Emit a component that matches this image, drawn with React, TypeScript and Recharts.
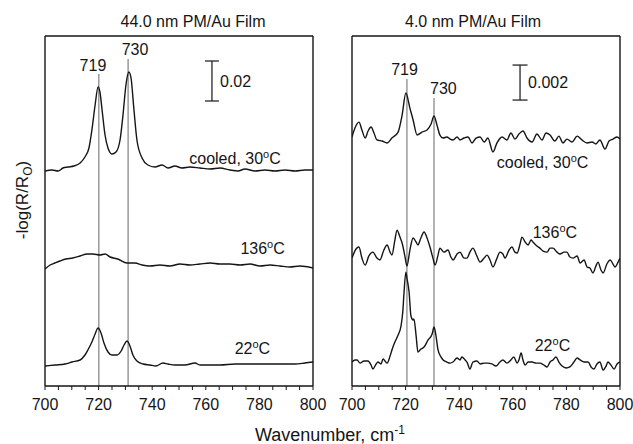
import React from 'react';
import { LineChart, Line, XAxis, YAxis, ReferenceLine, ReferenceDot } from 'recharts';

// ---------- data: [wavenumber (cm-1), -log(R/Ro) incl. stacking offset] ----------
const thickCooled: [number, number][] = [
  [700.0, 0.1075], [702.6, 0.108], [704.9, 0.1075], [706.7, 0.109], [708.6, 0.1095], [710.8, 0.110],
  [713.1, 0.1115], [714.9, 0.1145], [716.4, 0.119], [717.5, 0.128], [718.7, 0.1405], [719.8, 0.1495],
  [720.5, 0.147], [721.3, 0.138], [722.4, 0.1255], [723.5, 0.119], [725.0, 0.116], [726.5, 0.117],
  [728.0, 0.123], [729.1, 0.1355], [730.2, 0.1505], [731.3, 0.157], [732.1, 0.154], [733.2, 0.138],
  [734.3, 0.123], [736.2, 0.114], [738.4, 0.1105], [741.0, 0.1095], [743.7, 0.1105], [745.9, 0.109],
  [748.5, 0.110], [751.1, 0.109], [754.1, 0.1095], [757.8, 0.109], [761.6, 0.1085], [765.3, 0.109],
  [769.0, 0.108], [772.0, 0.1075], [774.6, 0.1085], [778.4, 0.1075], [782.1, 0.108], [785.8, 0.1075],
  [789.6, 0.108], [793.3, 0.1075], [797.0, 0.108], [800.0, 0.108],
];
const thickHot: [number, number][] = [
  [700.0, 0.0585], [701.9, 0.0605], [703.7, 0.0615], [705.6, 0.0625], [707.8, 0.0635], [710.4, 0.064],
  [713.1, 0.065], [715.7, 0.066], [717.9, 0.066], [720.5, 0.0655], [722.4, 0.066], [724.3, 0.0645],
  [727.2, 0.0635], [730.6, 0.0615], [733.6, 0.0615], [736.2, 0.0605], [739.2, 0.060], [742.9, 0.0605],
  [746.6, 0.060], [750.4, 0.061], [754.1, 0.0605], [757.8, 0.061], [761.6, 0.0615], [765.3, 0.061],
  [769.0, 0.061], [772.8, 0.0605], [776.5, 0.061], [780.2, 0.060], [784.0, 0.0605], [787.7, 0.060],
  [791.4, 0.0595], [795.1, 0.060], [800.0, 0.059],
];
const thickRoom: [number, number][] = [
  [700.0, 0.010], [703.7, 0.0105], [707.5, 0.011], [710.1, 0.012], [713.1, 0.013], [714.9, 0.0155],
  [716.0, 0.018], [717.5, 0.022], [718.7, 0.026], [719.8, 0.029], [720.9, 0.0265], [722.0, 0.0215],
  [723.5, 0.017], [725.0, 0.0155], [726.9, 0.0155], [728.4, 0.0175], [729.5, 0.0205], [730.6, 0.0225],
  [731.7, 0.020], [732.8, 0.0155], [734.3, 0.0125], [736.6, 0.011], [739.2, 0.0105], [741.4, 0.010],
  [744.0, 0.0115], [745.9, 0.011], [748.5, 0.0105], [752.2, 0.0105], [756.0, 0.0115], [757.8, 0.0105],
  [761.6, 0.0105], [765.3, 0.0105], [770.9, 0.011], [776.5, 0.011], [782.1, 0.011], [787.7, 0.011],
  [793.3, 0.011], [797.0, 0.0115], [800.0, 0.012],
];

const thinCooled: [number, number][] = [
  [700.0, 0.01423], [701.1, 0.01474], [702.6, 0.01508], [703.7, 0.01463], [704.9, 0.01417], [706.0, 0.01457],
  [707.1, 0.01480], [708.2, 0.01446], [709.3, 0.01406], [711.2, 0.01400], [713.1, 0.01389], [714.9, 0.01417],
  [717.2, 0.01451], [718.7, 0.01548], [720.1, 0.01674], [721.6, 0.01588], [722.8, 0.01520], [724.3, 0.01434],
  [726.1, 0.01451], [728.0, 0.01463], [729.5, 0.01497], [730.6, 0.01543], [731.7, 0.01491], [732.8, 0.01434],
  [734.0, 0.01417], [735.4, 0.01423], [736.6, 0.01411], [737.7, 0.01406], [739.2, 0.01423], [740.3, 0.01406],
  [741.8, 0.01417], [743.3, 0.01423], [744.8, 0.01389], [746.3, 0.01417], [747.8, 0.01423], [749.3, 0.01394],
  [750.7, 0.01417], [752.6, 0.01337], [754.1, 0.01389], [756.0, 0.01423], [757.8, 0.01406], [759.3, 0.01446],
  [760.8, 0.01411], [762.3, 0.01440], [763.8, 0.01457], [765.3, 0.01417], [767.2, 0.01394], [769.0, 0.01440],
  [770.9, 0.01406], [772.4, 0.01446], [773.9, 0.01434], [775.7, 0.01400], [777.2, 0.01428], [778.7, 0.01389],
  [780.2, 0.01411], [782.1, 0.01394], [784.0, 0.01428], [785.8, 0.01406], [787.7, 0.01389], [789.6, 0.01394],
  [791.0, 0.01383], [792.5, 0.01406], [794.4, 0.01354], [795.9, 0.01400], [797.4, 0.01411], [798.9, 0.01423],
  [800.0, 0.01411],
];
const thinHot: [number, number][] = [
  [700.0, 0.00731], [701.5, 0.00783], [702.6, 0.00794], [703.7, 0.00731], [704.9, 0.00691], [706.3, 0.00743],
  [707.8, 0.00765], [709.3, 0.00731], [710.4, 0.00720], [711.9, 0.00777], [713.1, 0.00806], [714.2, 0.00765],
  [714.9, 0.00748], [716.0, 0.00834], [716.8, 0.00891], [717.9, 0.00851], [718.7, 0.00817], [719.8, 0.00737],
  [720.5, 0.00685], [721.6, 0.00777], [722.8, 0.00846], [723.9, 0.00823], [724.6, 0.00806], [725.7, 0.00846],
  [726.9, 0.00880], [728.0, 0.00846], [729.1, 0.00794], [730.2, 0.00731], [731.0, 0.00691], [732.1, 0.00748],
  [732.8, 0.00788], [734.3, 0.00765], [735.8, 0.00777], [736.9, 0.00737], [737.7, 0.00720], [739.2, 0.00754],
  [740.3, 0.00765], [741.8, 0.00731], [742.9, 0.00731], [744.0, 0.00765], [745.1, 0.00788], [746.6, 0.00743],
  [747.8, 0.00708], [749.3, 0.00731], [750.4, 0.00748], [751.5, 0.00720], [752.6, 0.00680], [754.1, 0.00731],
  [755.2, 0.00765], [756.3, 0.00754], [757.1, 0.00731], [758.6, 0.00777], [759.7, 0.00794], [760.8, 0.00765],
  [761.6, 0.00760], [762.7, 0.00811], [763.4, 0.00851], [764.6, 0.00823], [765.7, 0.00806], [766.8, 0.00834],
  [767.5, 0.00823], [769.0, 0.00800], [770.1, 0.00788], [771.3, 0.00771], [772.8, 0.00765], [773.9, 0.00788],
  [775.0, 0.00788], [776.5, 0.00765], [777.6, 0.00754], [779.1, 0.00765], [780.2, 0.00765], [781.3, 0.00737],
  [782.5, 0.00731], [784.0, 0.00743], [785.1, 0.00703], [786.6, 0.00720], [787.7, 0.00680], [788.8, 0.00674],
  [789.9, 0.00646], [791.0, 0.00685], [791.8, 0.00708], [792.9, 0.00663], [793.7, 0.00646], [795.1, 0.00697],
  [796.3, 0.00720], [797.4, 0.00697], [798.1, 0.00680], [799.3, 0.00708], [800.0, 0.00731],
];
const thinRoom: [number, number][] = [
  [700.0, 0.00137], [701.1, 0.00149], [701.9, 0.00149], [703.0, 0.00131], [704.5, 0.00143], [706.0, 0.00143],
  [707.1, 0.00120], [707.8, 0.00097], [709.0, 0.00126], [709.7, 0.00137], [710.8, 0.00126], [711.6, 0.00154],
  [712.3, 0.00143], [713.1, 0.00131], [714.2, 0.00171], [714.9, 0.00206], [716.0, 0.00251], [717.2, 0.00291],
  [718.3, 0.00343], [719.0, 0.00434], [719.4, 0.00531], [720.1, 0.00651], [720.5, 0.00617], [721.3, 0.00537],
  [722.0, 0.00400], [722.8, 0.00377], [723.1, 0.00383], [723.9, 0.00291], [724.6, 0.00194], [725.7, 0.00211],
  [726.9, 0.00223], [728.4, 0.00263], [729.9, 0.00297], [730.6, 0.00337], [731.3, 0.00291], [732.1, 0.00206],
  [733.2, 0.00166], [734.0, 0.00149], [735.4, 0.00137], [736.6, 0.00131], [737.7, 0.00137], [739.2, 0.00160],
  [740.3, 0.00149], [741.0, 0.00166], [742.2, 0.00149], [742.9, 0.00137], [744.0, 0.00097], [745.1, 0.00137],
  [746.6, 0.00143], [747.8, 0.00126], [749.3, 0.00131], [750.7, 0.00131], [752.2, 0.00126], [753.7, 0.00114],
  [755.2, 0.00137], [756.3, 0.00149], [757.8, 0.00131], [759.3, 0.00149], [760.4, 0.00166], [761.6, 0.00131],
  [762.3, 0.00149], [763.1, 0.00189], [763.8, 0.00149], [764.6, 0.00120], [765.7, 0.00137], [767.2, 0.00137],
  [768.7, 0.00131], [770.1, 0.00131], [771.6, 0.00120], [772.8, 0.00109], [773.9, 0.00137], [775.0, 0.00149],
  [776.1, 0.00166], [777.2, 0.00137], [778.4, 0.00114], [779.9, 0.00103], [781.3, 0.00109], [782.8, 0.00137],
  [784.0, 0.00160], [785.1, 0.00149], [786.6, 0.00137], [788.1, 0.00137], [789.2, 0.00109], [790.3, 0.00097],
  [791.4, 0.00126], [792.5, 0.00137], [793.7, 0.00091], [794.8, 0.00114], [795.5, 0.00137], [796.6, 0.00120],
  [797.8, 0.00097], [798.9, 0.00126], [800.0, 0.00137],
];

const xTicks = [700, 705, 710, 715, 720, 725, 730, 735, 740, 745, 750, 755, 760, 765, 770, 775, 780, 785, 790, 795, 800];
const xMajor = [700, 720, 740, 760, 780, 800];
const peakLabels = ['719', '730'];
const panelTitles = ['44.0 nm PM/Au Film', '4.0 nm PM/Au Film'];

const FONT = '"Liberation Sans", Arial, Helvetica, sans-serif';
const INK = '#151515';

const toRows = (pts: [number, number][]) => pts.map(([x, y]) => ({ x, y }));

function Tick(props: any) {
  const { x, y, payload } = props;
  if (!xMajor.includes(payload.value)) return null;
  return (
    <text x={x} y={y + 18} textAnchor="middle" fontSize={16} fontFamily={FONT} fill={INK}>
      {payload.value}
    </text>
  );
}

function Anno(props: any) {
  const { viewBox, text, sup, after, anchor } = props;
  const x = viewBox.x + (viewBox.width || 0) / 2;
  const y = viewBox.y + (viewBox.height || 0) / 2;
  return (
    <text x={x} y={y} dy="0.36em" textAnchor={anchor || 'middle'} fontSize={16} fontFamily={FONT} fill={INK}>
      {text}
      {sup ? <tspan dy={-6} fontSize={11}>{sup}</tspan> : null}
      {after ? <tspan dy={sup ? 6 : 0}>{after}</tspan> : null}
    </text>
  );
}

type PanelProps = {
  marginLeft: number;
  marginRight: number;
  yMax: number;
  traces: [number, number][][];
  peaks: { x: number; top: number; lx: number; ly: number }[];
  bar: { x: number; y0: number; y1: number; cap: number; label: string; lx: number };
  notes: { x: number; y: number; text: string; sup?: string; after?: string }[];
};

function Panel(p: PanelProps) {
  const capL = p.bar.x - p.bar.cap;
  const capR = p.bar.x + p.bar.cap;
  return (
    <div style={{ position: 'absolute', left: 0, top: 0 }}>
      <LineChart width={633} height={444} margin={{ top: 36, left: p.marginLeft, right: p.marginRight, bottom: 28 }}>
        <XAxis
          dataKey="x"
          type="number"
          domain={[700, 800]}
          ticks={xTicks}
          interval={0}
          allowDataOverflow
          tickSize={4}
          tickMargin={2}
          height={30}
          stroke={INK}
          tickLine={{ stroke: INK, strokeWidth: 1 }}
          axisLine={{ stroke: INK, strokeWidth: 1.4 }}
          tick={<Tick />}
        />
        <YAxis type="number" domain={[0, p.yMax]} hide allowDataOverflow />
        <ReferenceLine x={700} stroke={INK} strokeWidth={1.4} />
        <ReferenceLine x={800} stroke={INK} strokeWidth={1.4} />
        <ReferenceLine y={p.yMax} stroke={INK} strokeWidth={1.4} />
        {p.peaks.map((pk, i) => (
          <ReferenceLine
            key={'pl' + i}
            segment={[{ x: pk.x, y: pk.top }, { x: pk.x, y: 0 }]}
            stroke="#666"
            strokeWidth={1}
          />
        ))}
        {p.peaks.map((pk, i) => (
          <ReferenceDot
            key={'pd' + i}
            x={pk.lx}
            y={pk.ly}
            r={0}
            fill="none"
            stroke="none"
            label={<Anno text={peakLabels[i]} />}
          />
        ))}
        <ReferenceLine segment={[{ x: p.bar.x, y: p.bar.y0 }, { x: p.bar.x, y: p.bar.y1 }]} stroke={INK} strokeWidth={1.2} />
        <ReferenceLine segment={[{ x: capL, y: p.bar.y0 }, { x: capR, y: p.bar.y0 }]} stroke={INK} strokeWidth={1.2} />
        <ReferenceLine segment={[{ x: capL, y: p.bar.y1 }, { x: capR, y: p.bar.y1 }]} stroke={INK} strokeWidth={1.2} />
        <ReferenceDot
          x={p.bar.lx}
          y={(p.bar.y0 + p.bar.y1) / 2}
          r={0}
          fill="none"
          stroke="none"
          label={<Anno text={p.bar.label} anchor="start" />}
        />
        {p.traces.map((t, i) => (
          <Line
            key={'t' + i}
            data={toRows(t)}
            dataKey="y"
            type="monotone"
            stroke={INK}
            strokeWidth={1.4}
            dot={false}
            isAnimationActive={false}
          />
        ))}
        {p.notes.map((n, i) => (
          <ReferenceDot
            key={'n' + i}
            x={n.x}
            y={n.y}
            r={0}
            fill="none"
            stroke="none"
            label={<Anno text={n.text} sup={n.sup} after={n.after} />}
          />
        ))}
      </LineChart>
    </div>
  );
}

export default function App() {
  return (
    <div style={{ position: 'absolute', left: 0, top: 0, width: 633, height: 444, background: '#fff', overflow: 'hidden' }}>
      <Panel
        marginLeft={45}
        marginRight={320}
        yMax={0.175}
        traces={[thickCooled, thickHot, thickRoom]}
        peaks={[
          { x: 720.1, top: 0.156, lx: 717.9, ly: 0.1605 },
          { x: 731.0, top: 0.1635, lx: 733.6, ly: 0.1685 },
        ]}
        bar={{ x: 762.3, y0: 0.1425, y1: 0.1625, cap: 2.6, label: '0.02', lx: 765.3 }}
        notes={[
          { x: 770.9, y: 0.114, text: 'cooled, 30', sup: 'o', after: 'C' },
          { x: 781.2, y: 0.069, text: '136', sup: 'o', after: 'C' },
          { x: 777.4, y: 0.019, text: '22', sup: 'o', after: 'C' },
        ]}
      />
      <Panel
        marginLeft={352}
        marginRight={13}
        yMax={0.02}
        traces={[thinCooled, thinHot, thinRoom]}
        peaks={[
          { x: 720.5, top: 0.01754, lx: 719.6, ly: 0.01811 },
          { x: 730.6, top: 0.01646, lx: 734.1, ly: 0.01703 },
        ]}
        bar={{ x: 762.7, y0: 0.01634, y1: 0.01834, cap: 2.8, label: '0.002', lx: 765.7 }}
        notes={[
          { x: 771.1, y: 0.0128, text: 'cooled, 30', sup: 'o', after: 'C' },
          { x: 775.7, y: 0.0088, text: '136', sup: 'o', after: 'C' },
          { x: 774.8, y: 0.00234, text: '22', sup: 'o', after: 'C' },
        ]}
      />
      <svg width={633} height={444} style={{ position: 'absolute', left: 0, top: 0, pointerEvents: 'none' }}>
        <text x={193} y={27} textAnchor="middle" fontSize={16} fontFamily={FONT} fill={INK}>{panelTitles[0]}</text>
        <text x={473} y={27} textAnchor="middle" fontSize={16} fontFamily={FONT} fill={INK}>{panelTitles[1]}</text>
        <text x={28} y={200} transform="rotate(-90 28 200)" textAnchor="middle" fontSize={17} fontFamily={FONT} fill={INK}>
          -log(R/R<tspan dy={4} fontSize={12}>O</tspan><tspan dy={-4}>)</tspan>
        </text>
        <text x={330} y={441} textAnchor="middle" fontSize={18} fontFamily={FONT} fill={INK}>
          Wavenumber, cm<tspan dy={-7} fontSize={12}>-1</tspan>
        </text>
      </svg>
    </div>
  );
}
